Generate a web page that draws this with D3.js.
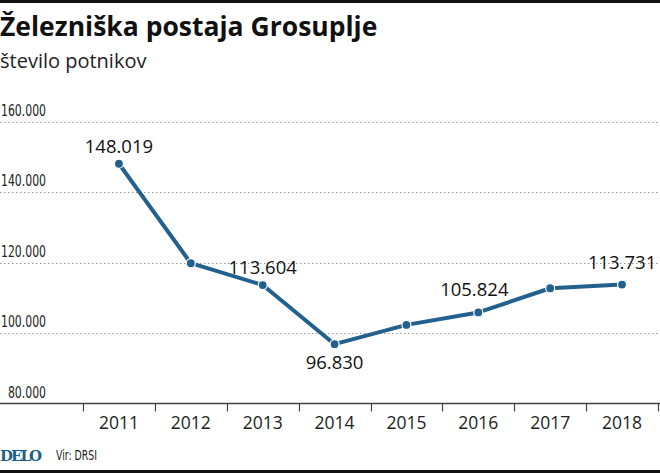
<!DOCTYPE html>
<html>
<head>
<meta charset="utf-8">
<script src="https://cdn.jsdelivr.net/npm/d3@7"></script>
<style>
  body { margin: 0; background: #fff; }
  svg { display: block; }
</style>
</head>
<body>
<script>
// podatki
const years = ["2011", "2012", "2013", "2014", "2015", "2016", "2017", "2018"];
const passengers = [148019, 119800, 113604, 96830, 102300, 105824, 112700, 113731];
const labelled = ["2011", "2013", "2014", "2016", "2018"];
const yTicks = [80000, 100000, 120000, 140000, 160000];

const width = 660, height = 473;
const blue = "#22608f";

const svg = d3.select("body").append("svg")
    .attr("width", width)
    .attr("height", height);

// ozka pisava: stisni besedilo na zeljeno sirino
function squeeze(sel, factor) {
    sel.each(function () {
        const w = this.getComputedTextLength();
        d3.select(this).attr("textLength", w * factor).attr("lengthAdjust", "spacingAndGlyphs");
    });
}

// crni trak zgoraj in spodaj
svg.append("rect").attr("x", 0).attr("y", 0).attr("width", width).attr("height", 3).attr("fill", "#111");
svg.append("rect").attr("x", 0).attr("y", 470).attr("width", width).attr("height", 3).attr("fill", "#111");

svg.append("text")
    .attr("x", 0).attr("y", 36)
    .style("font-family", "'Open Sans', sans-serif")
    .style("font-weight", "bold")
    .style("font-size", "26.5px")
    .attr("fill", "#111")
    .text("Železniška postaja Grosuplje");

svg.append("text")
    .attr("x", 0).attr("y", 68)
    .style("font-family", "'Open Sans', sans-serif")
    .style("font-size", "20px")
    .attr("fill", "#222")
    .text("število potnikov");

const x = d3.scaleBand().domain(years).range([83, 658]);
const y = d3.scaleLinear().domain([80000, 160000]).range([403.5, 121.5]);

const fmt = v => d3.format(",")(v).replace(/,/g, ".");

// mreza
svg.append("g")
    .selectAll("line")
    .data(yTicks.filter(d => d > 80000))
    .join("line")
    .attr("x1", 0).attr("x2", width)
    .attr("y1", d => Math.round(y(d)) + 0.5)
    .attr("y2", d => Math.round(y(d)) + 0.5)
    .attr("stroke", "#999")
    .attr("stroke-width", 1)
    .attr("stroke-dasharray", "1.5,2.5");

const yLab = svg.append("g")
    .selectAll("text")
    .data(yTicks)
    .join("text")
    .attr("x", 46)
    .attr("y", d => y(d) - 6)
    .attr("text-anchor", "end")
    .style("font-family", "'DejaVu Sans Condensed', sans-serif")
    .style("font-size", "15px")
    .attr("fill", "#222")
    .text(d => fmt(d));
const w160 = yLab.filter(d => d === 160000).node().getComputedTextLength();
squeeze(yLab, 45 / w160);

// os x
const xAxis = svg.append("g")
    .attr("transform", "translate(0,403.5)")
    .call(d3.axisBottom(x).tickSize(0).tickPadding(13));
xAxis.select(".domain").remove();
xAxis.selectAll("text")
    .style("font-family", "'Open Sans', sans-serif")
    .style("font-size", "17.5px")
    .attr("fill", "#222");
xAxis.append("line")
    .attr("x1", 0).attr("x2", width)
    .attr("stroke", "#444").attr("stroke-width", 1.3);
xAxis.selectAll(".sep")
    .data(years.concat(["end"]))
    .join("line")
    .attr("class", "sep")
    .attr("x1", (d, i) => Math.round(x.range()[0] + i * x.bandwidth()) + 0.5)
    .attr("x2", (d, i) => Math.round(x.range()[0] + i * x.bandwidth()) + 0.5)
    .attr("y1", 0).attr("y2", 8)
    .attr("stroke", "#444").attr("stroke-width", 1.2);

// crta
const cx = d => x(d) + x.bandwidth() / 2;
const line = d3.line()
    .x((d, i) => cx(years[i]))
    .y(d => y(d));

svg.append("path")
    .datum(passengers)
    .attr("d", line)
    .attr("fill", "none")
    .attr("stroke", blue)
    .attr("stroke-width", 4)
    .attr("stroke-linejoin", "round");

svg.append("g")
    .selectAll("circle")
    .data(passengers)
    .join("circle")
    .attr("cx", (d, i) => cx(years[i]))
    .attr("cy", d => y(d))
    .attr("r", 4.5)
    .attr("fill", blue)
    .attr("stroke", "#fff")
    .attr("stroke-width", 1.2);

// oznake vrednosti
const offs = { "2011": -11, "2013": -11, "2014": 25, "2016": -16, "2018": -16 };
const labelData = years.map((yr, i) => ({ yr, v: passengers[i] }))
    .filter(d => labelled.includes(d.yr));
svg.append("g")
    .selectAll("text")
    .data(labelData)
    .join("text")
    .attr("x", d => cx(d.yr) - (d.yr === "2016" ? 4 : 0))
    .attr("y", d => y(d.v) + offs[d.yr])
    .attr("text-anchor", "middle")
    .style("font-family", "'Open Sans', sans-serif")
    .style("font-size", "18.5px")
    .attr("fill", "#111")
    .text(d => fmt(d.v));

// noga
svg.append("text")
    .attr("x", 0).attr("y", 461)
    .style("font-family", "'DejaVu Serif', serif")
    .style("font-weight", "bold")
    .style("font-size", "15px")
    .attr("fill", "#1e5e8e")
    .attr("textLength", 42)
    .text("DELO");

const vir = svg.append("text")
    .attr("x", 56).attr("y", 460)
    .style("font-family", "'DejaVu Sans Condensed', sans-serif")
    .style("font-size", "13.5px")
    .attr("fill", "#222")
    .text("Vir: DRSI");
squeeze(vir, 41 / vir.node().getComputedTextLength());
</script>
</body>
</html>
